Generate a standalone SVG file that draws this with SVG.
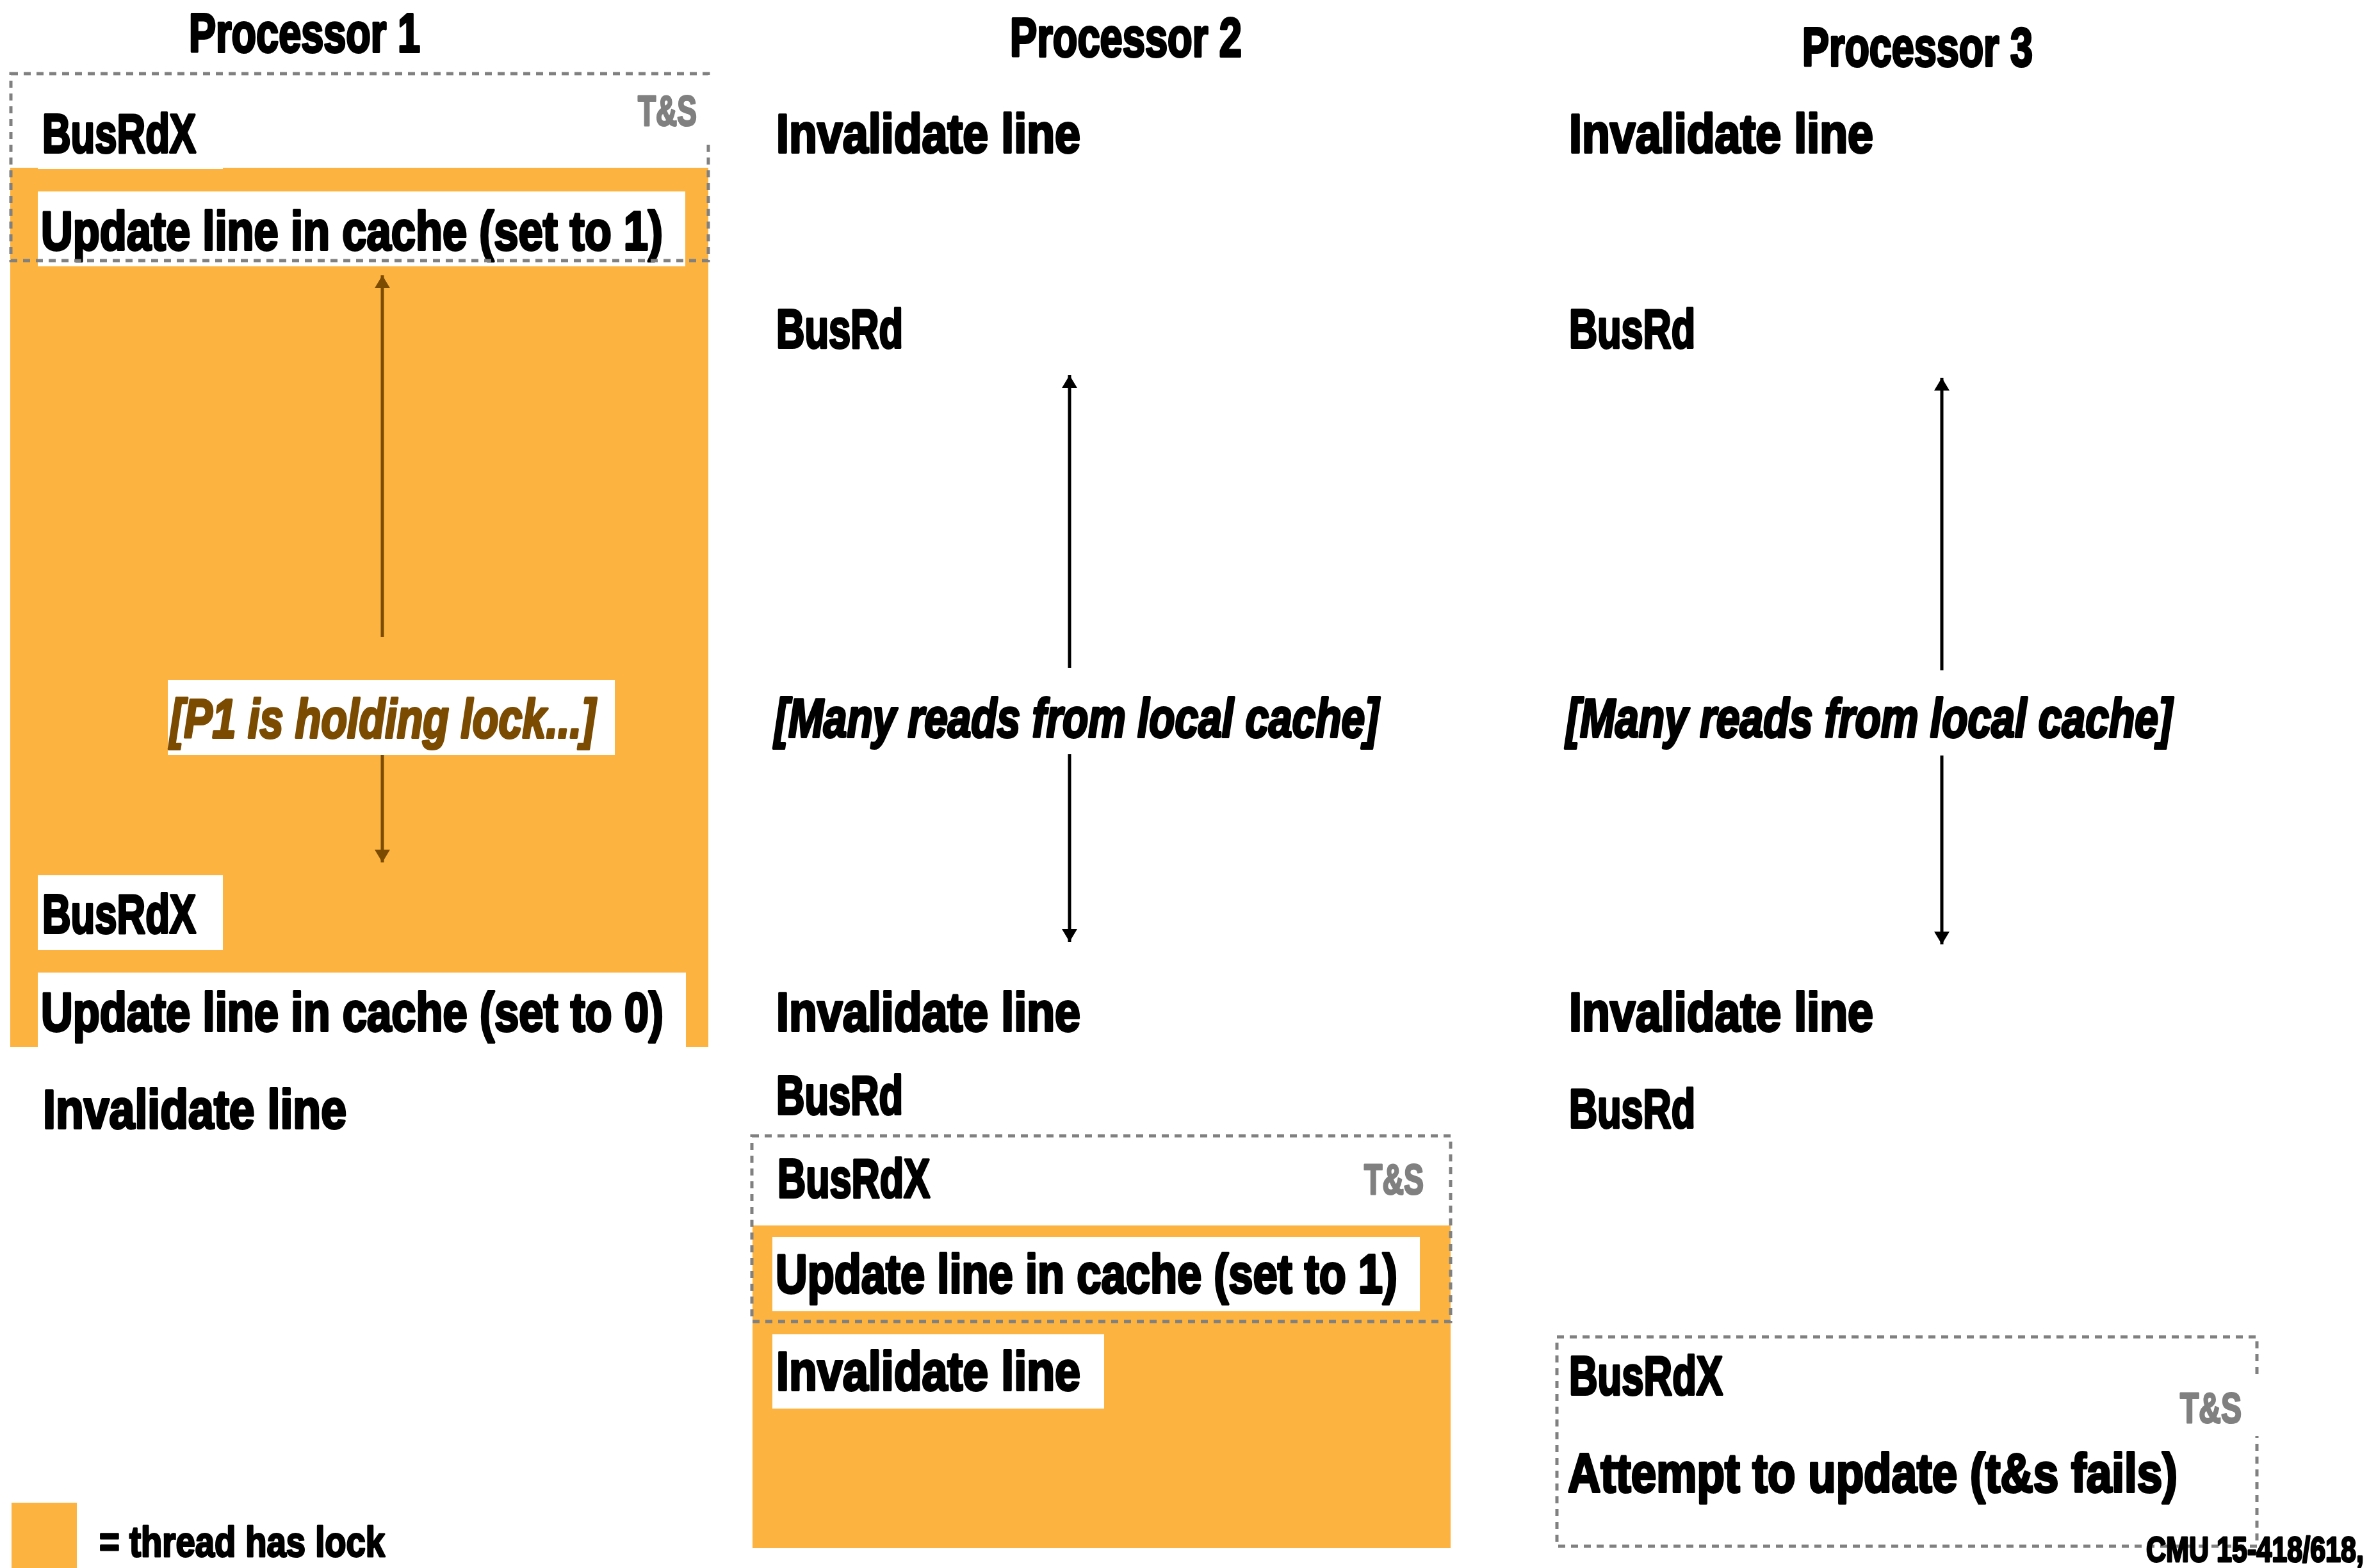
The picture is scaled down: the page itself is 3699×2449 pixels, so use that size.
<svg xmlns="http://www.w3.org/2000/svg" width="3699" height="2449" viewBox="0 0 3699 2449">
<style>
.t{font-family:"Liberation Sans",Arial,sans-serif;font-weight:bold;fill:#000;stroke:#000;stroke-width:4;stroke-linejoin:round}
.m{font-size:86px}
.h{font-size:85px}
.i{font-style:italic}
.br{fill:#7A4B00;stroke:#7A4B00}
.ts{font-size:66px;fill:#808080;stroke:#808080;stroke-width:3}
.sm{stroke-width:3}
.lock{fill:#FDB33F}
.wb{fill:#fff}
.dash{fill:none;stroke:#808080;stroke-width:5;stroke-dasharray:11 9}
.ar{stroke:#000;stroke-width:5;fill:none}
.arb{stroke:#7A4B00;stroke-width:5;fill:none}
</style>
<defs>
<marker id="ah" markerUnits="userSpaceOnUse" markerWidth="24" markerHeight="24" refX="20" refY="12" orient="auto" viewBox="0 0 24 24">
<path d="M0,0 L20,12 L0,24 Z" fill="#000"/>
</marker>
<marker id="ahb" markerUnits="userSpaceOnUse" markerWidth="24" markerHeight="24" refX="20" refY="12" orient="auto" viewBox="0 0 24 24">
<path d="M0,0 L20,12 L0,24 Z" fill="#7A4B00"/>
</marker>
</defs>
<rect width="3699" height="2449" fill="#fff"/>

<g id="titles">
<text class="t h" x="295" y="81" textLength="361" lengthAdjust="spacingAndGlyphs">Processor 1</text>
<text class="t h" x="1577" y="88" textLength="362" lengthAdjust="spacingAndGlyphs">Processor 2</text>
<text class="t h" x="2814" y="103" textLength="360" lengthAdjust="spacingAndGlyphs">Processor 3</text>
</g>

<g id="p1-lock">
<rect class="lock" x="16" y="262" width="1090" height="1373"/>
</g>
<g id="p2-lock">
<rect class="lock" x="1175" y="1914" width="1090" height="504"/>
</g>

<g id="p1-busrdx">
<rect class="wb" x="59" y="150" width="289" height="114"/>
<text class="t m" x="66" y="238" textLength="240" lengthAdjust="spacingAndGlyphs">BusRdX</text>
</g>
<g id="p1-update1">
<rect class="wb" x="59" y="299" width="1011" height="117"/>
<text class="t m" x="64" y="390" textLength="971" lengthAdjust="spacingAndGlyphs">Update line in cache (set to 1)</text>
</g>
<g id="p1-holding">
<rect class="wb" x="262" y="1062" width="698" height="117"/>
<text class="t m i br" x="265" y="1152" textLength="665" lengthAdjust="spacingAndGlyphs">[P1 is holding lock...]</text>
</g>
<g id="p1-busrdx2">
<rect class="wb" x="59" y="1367" width="289" height="117"/>
<text class="t m" x="66" y="1457" textLength="240" lengthAdjust="spacingAndGlyphs">BusRdX</text>
</g>
<g id="p1-update0">
<rect class="wb" x="59" y="1519" width="1012" height="117"/>
<text class="t m" x="64" y="1610" textLength="972" lengthAdjust="spacingAndGlyphs">Update line in cache (set to 0)</text>
</g>
<g id="p1-invalidate">
<text class="t m" x="67" y="1762" textLength="474" lengthAdjust="spacingAndGlyphs">Invalidate line</text>
</g>
<g id="p1-ts">
<rect class="dash" x="17" y="115" width="1089" height="292"/>
<rect class="wb" x="982" y="124" width="130" height="100"/>
<text class="t ts" x="996" y="196" textLength="92" lengthAdjust="spacingAndGlyphs">T&amp;S</text>
</g>

<g id="p2-invalidate1">
<text class="t m" x="1212" y="238" textLength="475" lengthAdjust="spacingAndGlyphs">Invalidate line</text>
</g>
<g id="p2-busrd1">
<text class="t m" x="1212" y="543" textLength="198" lengthAdjust="spacingAndGlyphs">BusRd</text>
</g>
<g id="p2-reads">
<text class="t m i" x="1209" y="1151" textLength="944" lengthAdjust="spacingAndGlyphs">[Many reads from local cache]</text>
</g>
<g id="p2-invalidate2">
<text class="t m" x="1212" y="1610" textLength="475" lengthAdjust="spacingAndGlyphs">Invalidate line</text>
</g>
<g id="p2-busrd2">
<text class="t m" x="1212" y="1740" textLength="198" lengthAdjust="spacingAndGlyphs">BusRd</text>
</g>
<g id="p2-busrdx">
<text class="t m" x="1214" y="1870" textLength="238" lengthAdjust="spacingAndGlyphs">BusRdX</text>
</g>
<g id="p2-update1">
<rect class="wb" x="1206" y="1932" width="1011" height="116"/>
<text class="t m" x="1211" y="2019" textLength="971" lengthAdjust="spacingAndGlyphs">Update line in cache (set to 1)</text>
</g>
<g id="p2-invalidate3">
<rect class="wb" x="1206" y="2084" width="518" height="116"/>
<text class="t m" x="1212" y="2171" textLength="475" lengthAdjust="spacingAndGlyphs">Invalidate line</text>
</g>
<g id="p2-ts">
<rect class="dash" x="1174" y="1774" width="1091" height="290"/>
<text class="t ts" x="2130" y="1865" textLength="93" lengthAdjust="spacingAndGlyphs">T&amp;S</text>
</g>

<g id="p3-invalidate1">
<text class="t m" x="2450" y="238" textLength="475" lengthAdjust="spacingAndGlyphs">Invalidate line</text>
</g>
<g id="p3-busrd1">
<text class="t m" x="2450" y="543" textLength="197" lengthAdjust="spacingAndGlyphs">BusRd</text>
</g>
<g id="p3-reads">
<text class="t m i" x="2445" y="1151" textLength="947" lengthAdjust="spacingAndGlyphs">[Many reads from local cache]</text>
</g>
<g id="p3-invalidate2">
<text class="t m" x="2450" y="1610" textLength="475" lengthAdjust="spacingAndGlyphs">Invalidate line</text>
</g>
<g id="p3-busrd2">
<text class="t m" x="2450" y="1761" textLength="197" lengthAdjust="spacingAndGlyphs">BusRd</text>
</g>
<g id="p3-busrdx">
<text class="t m" x="2450" y="2178" textLength="240" lengthAdjust="spacingAndGlyphs">BusRdX</text>
</g>
<g id="p3-attempt">
<text class="t m" x="2448" y="2330" textLength="952" lengthAdjust="spacingAndGlyphs">Attempt to update (t&amp;s fails)</text>
</g>
<g id="p3-ts">
<rect class="dash" x="2431" y="2088" width="1093" height="327"/>
<rect class="wb" x="3395" y="2150" width="136" height="93"/>
<text class="t ts" x="3404" y="2222" textLength="96" lengthAdjust="spacingAndGlyphs">T&amp;S</text>
</g>

<g id="connectors">
<line class="arb" x1="597" y1="995" x2="597" y2="430" marker-end="url(#ahb)"/>
<line class="arb" x1="597" y1="1179" x2="597" y2="1347" marker-end="url(#ahb)"/>
<line class="ar" x1="1670" y1="1043" x2="1670" y2="586" marker-end="url(#ah)"/>
<line class="ar" x1="1670" y1="1178" x2="1670" y2="1471" marker-end="url(#ah)"/>
<line class="ar" x1="3032" y1="1047" x2="3032" y2="590" marker-end="url(#ah)"/>
<line class="ar" x1="3032" y1="1180" x2="3032" y2="1475" marker-end="url(#ah)"/>
</g>

<g id="legend">
<rect class="lock" x="18" y="2347" width="102" height="102"/>
<text class="t sm" style="font-size:67px" x="155" y="2431" textLength="446" lengthAdjust="spacingAndGlyphs">= thread has lock</text>
</g>
<g id="footer">
<text class="t sm" style="font-size:56px" x="3351" y="2439" textLength="340" lengthAdjust="spacingAndGlyphs">CMU 15-418/618,</text>
</g>
</svg>
